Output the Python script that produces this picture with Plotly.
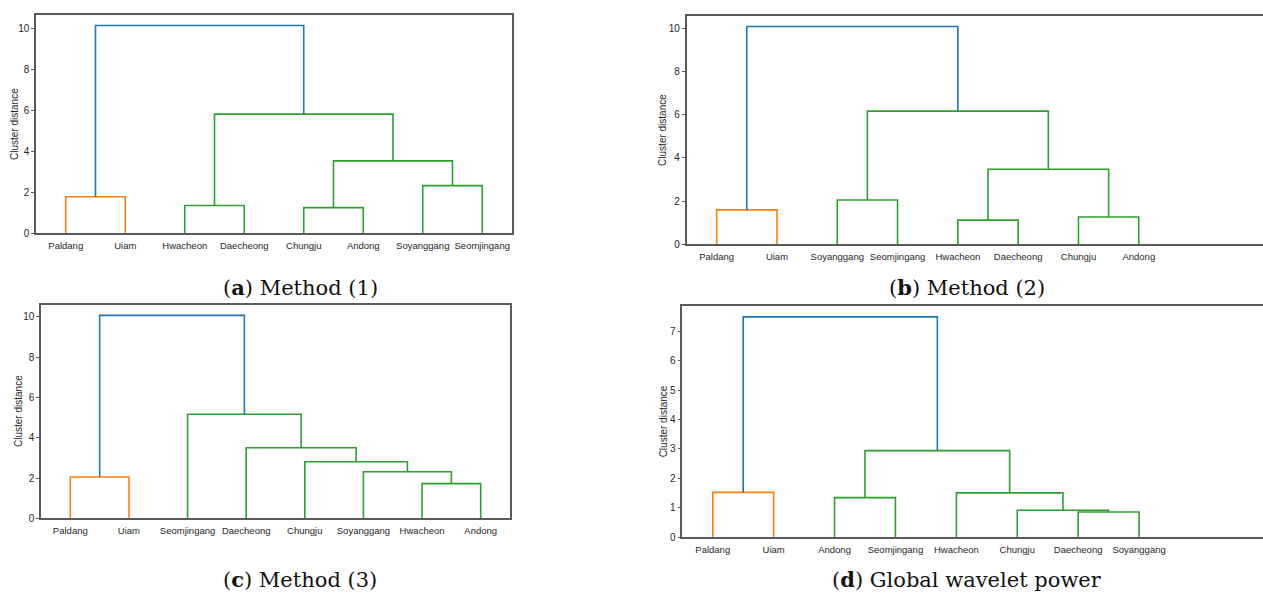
import plotly.graph_objects as go

# ---------------- data ----------------
leaves_a = ["Paldang", "Uiam", "Hwacheon", "Daecheong", "Chungju", "Andong", "Soyanggang", "Seomjingang"]
# merges: (left, right, height, colour key); ints are leaf indices, "m#" refer to earlier merges
merges_a = [
    (0, 1, 1.77, "o"),
    (2, 3, 1.34, "g"),
    (4, 5, 1.24, "g"),
    (6, 7, 2.31, "g"),
    ("m2", "m3", 3.52, "g"),
    ("m1", "m4", 5.80, "g"),
    ("m0", "m5", 10.13, "b"),
]

leaves_b = ["Paldang", "Uiam", "Soyanggang", "Seomjingang", "Hwacheon", "Daecheong", "Chungju", "Andong"]
merges_b = [
    (0, 1, 1.59, "o"),
    (2, 3, 2.05, "g"),
    (4, 5, 1.12, "g"),
    (6, 7, 1.26, "g"),
    ("m2", "m3", 3.47, "g"),
    ("m1", "m4", 6.16, "g"),
    ("m0", "m5", 10.07, "b"),
]

leaves_c = ["Paldang", "Uiam", "Seomjingang", "Daecheong", "Chungju", "Soyanggang", "Hwacheon", "Andong"]
merges_c = [
    (0, 1, 2.05, "o"),
    (6, 7, 1.72, "g"),
    (5, "m1", 2.31, "g"),
    (4, "m2", 2.81, "g"),
    (3, "m3", 3.50, "g"),
    (2, "m4", 5.16, "g"),
    ("m0", "m5", 10.07, "b"),
]

leaves_d = ["Paldang", "Uiam", "Andong", "Seomjingang", "Hwacheon", "Chungju", "Daecheong", "Soyanggang"]
merges_d = [
    (0, 1, 1.52, "o"),
    (2, 3, 1.34, "g"),
    (6, 7, 0.85, "g"),
    (5, "m2", 0.91, "g"),
    (4, "m3", 1.50, "g"),
    ("m1", "m4", 2.94, "g"),
    ("m0", "m5", 7.49, "b"),
]

y_ticks_abc = [0, 2, 4, 6, 8, 10]
y_ticks_d = [0, 1, 2, 3, 4, 5, 6, 7]

captions = [
    "(<b>a</b>) Method (1)",
    "(<b>b</b>) Method (2)",
    "(<b>c</b>) Method (3)",
    "(<b>d</b>) Global wavelet power",
]
y_title = "Cluster distance"

# ---------------- styling ----------------
COLORS = {"o": "#ff7f0e", "g": "#2ca02c", "b": "#1f77b4"}
W, H = 1263, 593
LINE_W = 1.6
SPINE = "#5a5a5a"
TXT = "#262626"
SANS = "Liberation Sans, Arial"


def leaf_x(i):
    return 5 + 10 * i


def build(merges):
    pos = {}
    segs = []
    for k, (l, r, h, c) in enumerate(merges):
        def get(n):
            if isinstance(n, str):
                return pos[n]
            return (leaf_x(n), 0.0)
        xl, hl = get(l)
        xr, hr = get(r)
        segs.append(([xl, xl, xr, xr], [hl, h, h, hr], c))
        pos["m%d" % k] = ((xl + xr) / 2, h)
    return segs


fig = go.Figure()

panels = [
    # leaves, merges, x-domain px, y-domain px (top, bottom), xmax, ymax, yticks, full box, y-title x px
    (leaves_a, merges_a, (36, 512), (15, 233), 80, 10.64, y_ticks_abc, True, 14),
    (leaves_b, merges_b, (686.5, 1263), (15.5, 244.3), 95.6, 10.58, y_ticks_abc, False, 663),
    (leaves_c, merges_c, (41, 510), (304.7, 518.3), 80, 10.6, y_ticks_abc, True, 18.5),
    (leaves_d, merges_d, (682.3, 1263), (305.7, 537), 95.35, 7.87, y_ticks_d, False, 663),
]

for idx, (leaves, merges, xd, yd, xmax, ymax, yt, box, tx) in enumerate(panels):
    n = idx + 1
    xa = "x" if n == 1 else "x%d" % n
    ya = "y" if n == 1 else "y%d" % n
    for xs, ys, c in build(merges):
        fig.add_trace(go.Scatter(x=xs, y=ys, mode="lines", xaxis=xa, yaxis=ya,
                                 line=dict(color=COLORS[c], width=LINE_W),
                                 showlegend=False, hoverinfo="skip"))
    xkey = "xaxis" if n == 1 else "xaxis%d" % n
    ykey = "yaxis" if n == 1 else "yaxis%d" % n
    fig.layout[xkey] = dict(
        domain=[xd[0] / W, min(xd[1] / W, 1.0)], range=[0, xmax], anchor=ya,
        tickmode="array", tickvals=[leaf_x(i) for i in range(len(leaves))], ticktext=leaves,
        showgrid=False, zeroline=False, showline=True, linecolor=SPINE, linewidth=1.5,
        mirror=True, ticks="", ticklabelstandoff=3,
        tickfont=dict(family=SANS, size=9.5, color=TXT),
        fixedrange=True, automargin=False,
    )
    fig.layout[ykey] = dict(
        domain=[1 - yd[1] / H, 1 - yd[0] / H], range=[0, ymax], anchor=xa,
        tickmode="array", tickvals=yt,
        showgrid=False, zeroline=False, showline=True, linecolor=SPINE, linewidth=1.5,
        mirror=box, ticks="outside", ticklen=3, tickcolor=SPINE, tickwidth=1,
        tickfont=dict(family=SANS, size=10, color=TXT),
        fixedrange=True, automargin=False,
    )
    fig.add_annotation(x=tx / W, y=1 - (yd[0] + yd[1]) / 2 / H, xref="paper", yref="paper",
                       text=y_title, textangle=-90, showarrow=False,
                       xanchor="center", yanchor="middle",
                       font=dict(family=SANS, size=10, color=TXT))

cap_pos = [(300, 288), (967, 288), (300, 579), (967, 579)]
for (cx, cy), txt in zip(cap_pos, captions):
    fig.add_annotation(x=cx / W, y=1 - cy / H, xref="paper", yref="paper", text=txt,
                       showarrow=False, xanchor="center", yanchor="middle",
                       font=dict(family="DejaVu Serif, Liberation Serif, serif", size=21, color="#111"))

fig.update_layout(width=W, height=H, margin=dict(l=0, r=0, t=0, b=0),
                  paper_bgcolor="white", plot_bgcolor="white")

fig.write_html("out.html", config={"displayModeBar": False})
